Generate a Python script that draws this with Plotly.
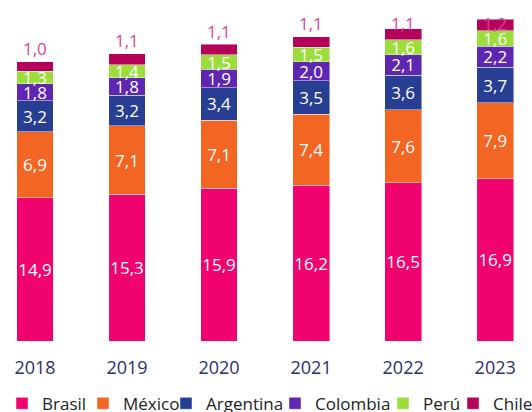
import plotly.graph_objects as go

years = ["2018", "2019", "2020", "2021", "2022", "2023"]
brasil = [14.9, 15.3, 15.9, 16.2, 16.5, 16.9]
mexico = [6.9, 7.1, 7.1, 7.4, 7.6, 7.9]
argentina = [3.2, 3.2, 3.4, 3.5, 3.6, 3.7]
colombia = [1.8, 1.8, 1.9, 2.0, 2.1, 2.2]
peru = [1.3, 1.4, 1.5, 1.5, 1.6, 1.6]
chile = [1.0, 1.1, 1.1, 1.1, 1.1, 1.2]

series = [
    ("Brasil", brasil, "#F0036F"),
    ("México", mexico, "#F26522"),
    ("Argentina", argentina, "#283E93"),
    ("Colombia", colombia, "#5E26B1"),
    ("Perú", peru, "#9BDD3B"),
    ("Chile", chile, "#B6015B"),
]

FONT = "Open Sans"

def fmt(v):
    return f"{v:.1f}".replace(".", ",")

fig = go.Figure()
legend_px = [19, 100, 183, 292, 400, 470]
for i, (name, vals, col) in enumerate(series):
    is_top = name == "Chile"
    lname = "legend" if i == 0 else f"legend{i+1}"
    fig.add_trace(go.Bar(
        x=years, y=vals, name=name,
        marker=dict(color=col, line=dict(color="rgba(255,255,255,0.45)", width=1)),
        text=None if is_top else [fmt(v) for v in vals],
        textposition="inside",
        insidetextanchor="middle",
        textangle=0,
        textfont=dict(color="white", size=17, family=FONT),
        legend=lname,
        hoverinfo="skip",
    ))

totals = [sum(s[1][k] for s in series) for k in range(len(years))]
for k, yr in enumerate(years):
    fig.add_annotation(
        x=k, y=min(totals[k] + 1.35, 33.1), text=fmt(chile[k]),
        showarrow=False, font=dict(color="#D9419A", size=17, family=FONT),
        xanchor="center", yanchor="middle", xref="x", yref="y",
    )

layout_legends = {}
for i in range(6):
    key = "legend" if i == 0 else f"legend{i+1}"
    layout_legends[key] = dict(
        x=(legend_px[i] - 17) / 532, y=-0.184, xanchor="left", yanchor="middle",
        orientation="h", font=dict(size=17, family=FONT, color="#222222"),
        bgcolor="rgba(0,0,0,0)", itemwidth=30,
    )

fig.update_layout(
    width=532, height=412,
    margin=dict(l=0, r=0, t=0, b=71, autoexpand=False),
    barmode="stack", bargap=0.6,
    plot_bgcolor="white", paper_bgcolor="white",
    uniformtext=dict(minsize=17, mode="show"),
    xaxis=dict(type="category", range=[-0.38, 5.40], showgrid=False, showline=False,
               zeroline=False, ticks="",
               tickfont=dict(size=18, family=FONT, color="#2B2F6E"),
               ticklabelstandoff=14),
    yaxis=dict(range=[0, 35.52], visible=False),
    showlegend=True,
    **layout_legends,
)

fig.write_html("out.html", config={"displayModeBar": False},
               post_script="document.body.style.margin='0px';")
